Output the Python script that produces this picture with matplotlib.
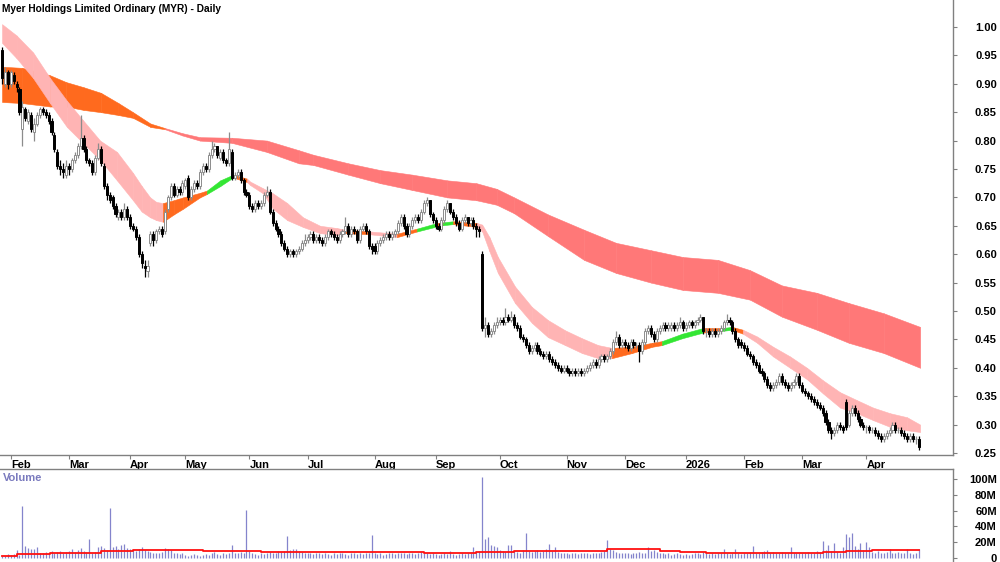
import numpy as np
import pandas as pd
import matplotlib
matplotlib.use("Agg")
import matplotlib.pyplot as plt

plt.rcParams['font.family'] = ['Liberation Sans', 'DejaVu Sans']

# trading calendar (ASX), Jan 29 2025 .. Apr 29 2026
start_date = "2025-01-29"
end_date = "2026-04-29"
holidays = ["2025-04-18", "2025-04-21", "2025-04-25", "2025-06-09", "2025-12-25",
            "2025-12-26", "2026-01-01", "2026-01-26", "2026-04-03", "2026-04-06"]

# daily candles, one row per month
opens = [
    0.96, 0.90, 0.92,
    0.90, 0.915, 0.90, 0.89, 0.82, 0.855, 0.835, 0.845, 0.815, 0.83, 0.845, 0.855, 0.85, 0.845, 0.835, 0.81, 0.78, 0.755, 0.75, 0.74,
    0.755, 0.75, 0.765, 0.775, 0.79, 0.805, 0.785, 0.765, 0.76, 0.745, 0.77, 0.785, 0.755, 0.72, 0.705, 0.70, 0.685, 0.665, 0.675, 0.665, 0.68,
    0.665, 0.65, 0.645, 0.63, 0.60, 0.58, 0.57, 0.62, 0.635, 0.625, 0.64, 0.645, 0.64, 0.68, 0.70, 0.72, 0.705, 0.715, 0.71,
    0.72, 0.735, 0.70, 0.715, 0.725, 0.72, 0.745, 0.755, 0.75, 0.775, 0.785, 0.79, 0.77, 0.78, 0.765, 0.76, 0.78, 0.735, 0.74, 0.745, 0.73, 0.71,
    0.705, 0.685, 0.68, 0.69, 0.685, 0.69, 0.705, 0.71, 0.675, 0.655, 0.645, 0.635, 0.62, 0.61, 0.60, 0.605, 0.60, 0.605, 0.61, 0.62,
    0.625, 0.63, 0.635, 0.625, 0.63, 0.625, 0.62, 0.63, 0.64, 0.635, 0.63, 0.625, 0.635, 0.64, 0.65, 0.635, 0.645, 0.64, 0.625, 0.645, 0.65, 0.64, 0.615,
    0.615, 0.605, 0.62, 0.625, 0.63, 0.635, 0.63, 0.635, 0.64, 0.655, 0.665, 0.65, 0.635, 0.65, 0.66, 0.665, 0.66, 0.675, 0.69, 0.695, 0.67,
    0.66, 0.65, 0.645, 0.66, 0.68, 0.69, 0.675, 0.665, 0.655, 0.645, 0.66, 0.665, 0.655, 0.66, 0.65, 0.645, 0.60, 0.47, 0.475, 0.46, 0.465, 0.475,
    0.48, 0.485, 0.48, 0.49, 0.485, 0.49, 0.475, 0.47, 0.455, 0.45, 0.44, 0.43, 0.435, 0.44, 0.43, 0.425, 0.42, 0.425, 0.415, 0.41, 0.405, 0.40, 0.395,
    0.40, 0.395, 0.39, 0.395, 0.39, 0.395, 0.39, 0.395, 0.40, 0.405, 0.41, 0.405, 0.415, 0.42, 0.415, 0.42, 0.43, 0.445, 0.455, 0.44,
    0.445, 0.44, 0.435, 0.445, 0.44, 0.44, 0.43, 0.445, 0.465, 0.47, 0.46, 0.45, 0.465, 0.47, 0.475, 0.47, 0.47, 0.475, 0.47, 0.475, 0.48,
    0.47, 0.475, 0.48, 0.475, 0.48, 0.485, 0.49, 0.465, 0.465, 0.46, 0.465, 0.46, 0.465, 0.47, 0.48, 0.485, 0.48, 0.465, 0.45, 0.445,
    0.44, 0.435, 0.425, 0.42, 0.41, 0.405, 0.395, 0.39, 0.38, 0.37, 0.365, 0.37, 0.375, 0.385, 0.375, 0.37, 0.365, 0.37, 0.375, 0.385,
    0.37, 0.36, 0.355, 0.35, 0.345, 0.34, 0.335, 0.33, 0.32, 0.305, 0.29, 0.285, 0.29, 0.30, 0.295, 0.34, 0.30, 0.32, 0.33, 0.32, 0.31, 0.30,
    0.295, 0.295, 0.29, 0.29, 0.285, 0.28, 0.275, 0.28, 0.285, 0.29, 0.30, 0.29, 0.29, 0.285, 0.28, 0.275, 0.28, 0.275, 0.275,
]
highs = [
    0.965, 0.93, 0.925,
    0.925, 0.92, 0.905, 0.895, 0.87, 0.86, 0.855, 0.85, 0.84, 0.85, 0.86, 0.86, 0.855, 0.85, 0.84, 0.815, 0.785, 0.765, 0.76, 0.765,
    0.76, 0.77, 0.78, 0.795, 0.845, 0.81, 0.79, 0.77, 0.765, 0.775, 0.795, 0.79, 0.76, 0.725, 0.71, 0.705, 0.69, 0.68, 0.68, 0.69, 0.685,
    0.67, 0.655, 0.65, 0.635, 0.605, 0.59, 0.59, 0.64, 0.64, 0.645, 0.65, 0.65, 0.68, 0.705, 0.725, 0.725, 0.72, 0.72, 0.73,
    0.735, 0.74, 0.72, 0.73, 0.73, 0.75, 0.76, 0.76, 0.78, 0.80, 0.795, 0.79, 0.785, 0.785, 0.77, 0.815, 0.785, 0.745, 0.75, 0.75, 0.735, 0.715,
    0.71, 0.69, 0.695, 0.695, 0.695, 0.71, 0.72, 0.715, 0.68, 0.66, 0.65, 0.64, 0.625, 0.615, 0.61, 0.61, 0.61, 0.615, 0.625, 0.635,
    0.635, 0.64, 0.64, 0.635, 0.635, 0.63, 0.635, 0.645, 0.645, 0.64, 0.635, 0.64, 0.645, 0.665, 0.655, 0.65, 0.65, 0.645, 0.65, 0.655, 0.655, 0.645, 0.62,
    0.62, 0.625, 0.63, 0.635, 0.64, 0.64, 0.64, 0.645, 0.66, 0.67, 0.67, 0.655, 0.655, 0.665, 0.67, 0.67, 0.68, 0.695, 0.70, 0.695, 0.675,
    0.665, 0.655, 0.665, 0.685, 0.695, 0.69, 0.68, 0.67, 0.66, 0.665, 0.67, 0.665, 0.665, 0.665, 0.655, 0.65, 0.605, 0.49, 0.48, 0.47, 0.48, 0.49,
    0.49, 0.49, 0.505, 0.495, 0.50, 0.495, 0.48, 0.475, 0.46, 0.455, 0.445, 0.44, 0.445, 0.445, 0.435, 0.43, 0.43, 0.43, 0.42, 0.415, 0.41, 0.405, 0.405,
    0.405, 0.40, 0.40, 0.40, 0.40, 0.40, 0.40, 0.405, 0.41, 0.415, 0.415, 0.42, 0.425, 0.425, 0.425, 0.435, 0.45, 0.465, 0.46, 0.45,
    0.45, 0.445, 0.45, 0.45, 0.445, 0.445, 0.45, 0.47, 0.475, 0.475, 0.465, 0.47, 0.475, 0.48, 0.48, 0.48, 0.48, 0.48, 0.48, 0.49, 0.485,
    0.48, 0.485, 0.485, 0.485, 0.49, 0.495, 0.49, 0.47, 0.47, 0.47, 0.47, 0.47, 0.475, 0.485, 0.495, 0.49, 0.485, 0.47, 0.455, 0.45,
    0.445, 0.44, 0.43, 0.425, 0.415, 0.41, 0.40, 0.395, 0.385, 0.375, 0.375, 0.38, 0.39, 0.39, 0.38, 0.375, 0.375, 0.38, 0.39, 0.39,
    0.375, 0.365, 0.36, 0.355, 0.35, 0.345, 0.34, 0.335, 0.325, 0.31, 0.295, 0.295, 0.305, 0.305, 0.30, 0.345, 0.325, 0.335, 0.335, 0.325, 0.315, 0.305,
    0.30, 0.30, 0.295, 0.295, 0.29, 0.285, 0.285, 0.29, 0.295, 0.305, 0.305, 0.295, 0.295, 0.29, 0.285, 0.285, 0.285, 0.28, 0.28,
]
lows = [
    0.90, 0.895, 0.89,
    0.895, 0.90, 0.885, 0.845, 0.79, 0.835, 0.83, 0.815, 0.80, 0.825, 0.84, 0.845, 0.84, 0.83, 0.81, 0.78, 0.75, 0.74, 0.735, 0.735,
    0.74, 0.745, 0.76, 0.77, 0.785, 0.78, 0.76, 0.755, 0.74, 0.74, 0.765, 0.755, 0.715, 0.695, 0.69, 0.68, 0.665, 0.66, 0.66, 0.66, 0.66,
    0.645, 0.64, 0.625, 0.595, 0.575, 0.56, 0.56, 0.615, 0.615, 0.62, 0.635, 0.63, 0.635, 0.675, 0.695, 0.70, 0.70, 0.705, 0.705,
    0.715, 0.695, 0.695, 0.71, 0.715, 0.715, 0.74, 0.745, 0.745, 0.77, 0.78, 0.77, 0.765, 0.76, 0.755, 0.755, 0.73, 0.73, 0.735, 0.725, 0.705, 0.70,
    0.68, 0.675, 0.675, 0.68, 0.68, 0.685, 0.70, 0.67, 0.65, 0.64, 0.63, 0.615, 0.605, 0.595, 0.595, 0.595, 0.595, 0.60, 0.605, 0.615,
    0.62, 0.625, 0.62, 0.62, 0.62, 0.615, 0.615, 0.625, 0.63, 0.625, 0.62, 0.62, 0.63, 0.635, 0.63, 0.63, 0.635, 0.62, 0.62, 0.64, 0.635, 0.61, 0.60,
    0.60, 0.60, 0.615, 0.62, 0.625, 0.625, 0.625, 0.63, 0.635, 0.65, 0.645, 0.63, 0.63, 0.645, 0.655, 0.655, 0.655, 0.67, 0.685, 0.665, 0.655,
    0.645, 0.64, 0.64, 0.655, 0.675, 0.67, 0.66, 0.65, 0.64, 0.64, 0.655, 0.65, 0.65, 0.645, 0.63, 0.63, 0.465, 0.455, 0.455, 0.455, 0.46, 0.47,
    0.475, 0.475, 0.475, 0.48, 0.48, 0.47, 0.465, 0.45, 0.445, 0.435, 0.425, 0.425, 0.43, 0.425, 0.42, 0.415, 0.415, 0.41, 0.405, 0.40, 0.395, 0.39, 0.39,
    0.39, 0.385, 0.385, 0.385, 0.385, 0.385, 0.385, 0.39, 0.395, 0.40, 0.40, 0.40, 0.41, 0.41, 0.41, 0.415, 0.425, 0.44, 0.435, 0.435,
    0.435, 0.43, 0.43, 0.435, 0.435, 0.41, 0.425, 0.44, 0.46, 0.455, 0.445, 0.445, 0.46, 0.465, 0.465, 0.465, 0.465, 0.465, 0.465, 0.47, 0.465,
    0.465, 0.47, 0.47, 0.47, 0.475, 0.48, 0.46, 0.455, 0.455, 0.455, 0.455, 0.455, 0.46, 0.465, 0.475, 0.475, 0.46, 0.445, 0.435, 0.435,
    0.43, 0.42, 0.415, 0.405, 0.40, 0.39, 0.385, 0.375, 0.365, 0.36, 0.36, 0.365, 0.37, 0.37, 0.365, 0.36, 0.36, 0.365, 0.37, 0.365,
    0.355, 0.35, 0.345, 0.34, 0.335, 0.33, 0.325, 0.315, 0.30, 0.285, 0.275, 0.28, 0.285, 0.29, 0.285, 0.29, 0.295, 0.315, 0.315, 0.305, 0.295, 0.29,
    0.285, 0.285, 0.285, 0.28, 0.275, 0.27, 0.27, 0.275, 0.28, 0.285, 0.285, 0.285, 0.28, 0.275, 0.27, 0.27, 0.27, 0.265, 0.255,
]
closes = [
    0.91, 0.92, 0.90,
    0.92, 0.905, 0.895, 0.85, 0.86, 0.84, 0.85, 0.82, 0.83, 0.845, 0.855, 0.85, 0.845, 0.835, 0.815, 0.785, 0.755, 0.75, 0.745, 0.755,
    0.75, 0.765, 0.775, 0.79, 0.805, 0.785, 0.765, 0.76, 0.745, 0.77, 0.785, 0.76, 0.72, 0.705, 0.695, 0.685, 0.67, 0.675, 0.665, 0.68, 0.665,
    0.65, 0.645, 0.63, 0.60, 0.585, 0.575, 0.58, 0.635, 0.625, 0.64, 0.645, 0.635, 0.675, 0.70, 0.72, 0.705, 0.715, 0.71, 0.725,
    0.73, 0.70, 0.715, 0.725, 0.72, 0.745, 0.755, 0.75, 0.775, 0.785, 0.79, 0.775, 0.78, 0.765, 0.76, 0.785, 0.735, 0.74, 0.745, 0.73, 0.71, 0.705,
    0.685, 0.68, 0.69, 0.685, 0.69, 0.705, 0.71, 0.675, 0.655, 0.645, 0.635, 0.62, 0.61, 0.60, 0.605, 0.60, 0.605, 0.61, 0.62, 0.625,
    0.63, 0.635, 0.625, 0.63, 0.625, 0.62, 0.63, 0.64, 0.635, 0.63, 0.625, 0.635, 0.64, 0.65, 0.635, 0.645, 0.64, 0.625, 0.645, 0.65, 0.64, 0.615, 0.61,
    0.605, 0.62, 0.625, 0.63, 0.635, 0.63, 0.635, 0.64, 0.655, 0.665, 0.65, 0.635, 0.65, 0.66, 0.665, 0.66, 0.675, 0.69, 0.695, 0.67, 0.66,
    0.65, 0.645, 0.66, 0.68, 0.69, 0.675, 0.665, 0.655, 0.645, 0.66, 0.665, 0.655, 0.66, 0.65, 0.645, 0.64, 0.47, 0.475, 0.46, 0.465, 0.475, 0.48,
    0.485, 0.48, 0.49, 0.485, 0.49, 0.475, 0.47, 0.455, 0.45, 0.44, 0.43, 0.435, 0.44, 0.43, 0.425, 0.42, 0.425, 0.415, 0.41, 0.405, 0.40, 0.395, 0.40,
    0.395, 0.39, 0.395, 0.39, 0.395, 0.39, 0.395, 0.40, 0.405, 0.41, 0.405, 0.415, 0.42, 0.415, 0.42, 0.43, 0.445, 0.455, 0.44, 0.445,
    0.44, 0.435, 0.445, 0.44, 0.44, 0.43, 0.445, 0.465, 0.47, 0.46, 0.45, 0.465, 0.47, 0.475, 0.47, 0.475, 0.475, 0.47, 0.475, 0.48, 0.47,
    0.475, 0.48, 0.475, 0.48, 0.485, 0.49, 0.465, 0.465, 0.46, 0.465, 0.46, 0.465, 0.47, 0.48, 0.485, 0.48, 0.465, 0.45, 0.44, 0.44,
    0.435, 0.425, 0.42, 0.41, 0.405, 0.395, 0.39, 0.38, 0.37, 0.365, 0.37, 0.375, 0.385, 0.375, 0.37, 0.365, 0.37, 0.375, 0.385, 0.37,
    0.36, 0.355, 0.35, 0.345, 0.34, 0.335, 0.33, 0.32, 0.305, 0.29, 0.285, 0.29, 0.30, 0.295, 0.29, 0.295, 0.32, 0.33, 0.32, 0.31, 0.30, 0.295,
    0.295, 0.29, 0.29, 0.285, 0.28, 0.275, 0.28, 0.285, 0.29, 0.30, 0.29, 0.29, 0.285, 0.28, 0.275, 0.28, 0.275, 0.275, 0.26,
]
# volume in millions of shares
volume_m = [
    3, 3, 5,
    4, 5, 10, 4, 66, 15, 13, 11, 12, 14, 6, 7, 8, 6, 9, 7, 8, 9, 7, 8,
    9, 11, 8, 10, 13, 9, 8, 24, 7, 8, 14, 15, 13, 10, 63, 14, 15, 12, 16, 18, 13,
    11, 10, 9, 12, 14, 10, 9, 8, 7, 6, 7, 8, 13, 12, 10, 7, 6, 5, 6,
    4, 3, 4, 5, 4, 3, 4, 5, 4, 6, 8, 5, 4, 6, 5, 7, 17, 6, 7, 8, 6, 61,
    9, 7, 5, 4, 6, 5, 7, 8, 6, 7, 9, 8, 9, 28, 10, 12, 11, 9, 8, 7,
    7, 6, 5, 6, 7, 5, 6, 5, 4, 6, 5, 7, 6, 5, 4, 6, 7, 5, 6, 5, 6, 7, 29,
    6, 5, 6, 4, 5, 6, 7, 5, 6, 7, 6, 5, 6, 7, 5, 6, 8, 7, 6, 5, 6,
    5, 4, 5, 6, 5, 9, 5, 4, 5, 6, 5, 6, 7, 14, 8, 9, 103, 24, 27, 16, 15, 14,
    10, 9, 8, 16, 17, 9, 8, 7, 10, 32, 9, 8, 9, 10, 8, 9, 11, 18, 9, 14, 8, 7, 6,
    6, 5, 6, 7, 5, 6, 7, 6, 5, 6, 7, 6, 8, 9, 23, 12, 10, 8, 7, 6,
    7, 6, 5, 6, 7, 8, 6, 7, 14, 9, 10, 8, 7, 6, 5, 6, 4, 5, 6, 5, 4,
    5, 4, 5, 6, 7, 5, 8, 6, 5, 6, 5, 7, 6, 12, 6, 5, 7, 12, 6, 5,
    6, 7, 8, 15, 7, 6, 8, 9, 10, 7, 8, 6, 7, 8, 6, 7, 14, 6, 7, 6,
    7, 6, 8, 7, 6, 9, 8, 22, 10, 17, 9, 19, 8, 7, 14, 31, 27, 32, 15, 12, 19, 10,
    20, 14, 8, 7, 9, 6, 7, 8, 12, 6, 7, 8, 6, 7, 11, 6, 5, 6, 12,
]
# volume average line (millions), level from each bar number onward
vol_avg_bar = [0, 5, 16.5, 34, 45, 69, 89, 102, 145, 163, 176, 187, 208, 226, 233, 242, 282, 290, 299, 315]
vol_avg_m = [2.5, 5, 6, 9, 10, 9, 8, 7.5, 6, 7.5, 9, 8.5, 11, 9, 8, 7, 7.5, 9, 10, 10]

# short-term band (bar number, upper, lower, state of the following segment)
short_bar = [0, 5, 10.7, 16.5, 22.3, 27.8, 33.7, 39.5, 45, 48, 50.9, 53, 55.3, 59, 62.2, 68, 70.4, 75,
             79.4, 84.2, 85.2, 89.7, 93.1, 98, 103.4, 109.3, 115.1, 117.9, 126.5, 135.7, 142.6,
             149.5, 151.5, 155, 163.2, 165, 167.5, 170.4, 176.3, 182.1, 187.6, 193.5, 199.3, 204.8,
             209.6, 216.5, 223.4, 226.8, 233.7, 240.9, 247.4, 250.9, 254.6, 259.5, 265, 270.8,
             276.6, 282.1, 288, 293.8, 299.3, 305.2, 311, 315.5]
short_top = [1.005, 0.985, 0.955, 0.91, 0.87, 0.836, 0.80, 0.78, 0.743, 0.72, 0.70, 0.692, 0.69,
             0.695, 0.70, 0.708, 0.712, 0.73, 0.74, 0.733, 0.728, 0.716, 0.707, 0.69, 0.665, 0.65,
             0.646, 0.643, 0.64, 0.636, 0.645, 0.655, 0.656, 0.658, 0.655, 0.652, 0.63, 0.595, 0.543,
             0.507, 0.484, 0.466, 0.452, 0.44, 0.435, 0.437, 0.444, 0.447, 0.46, 0.47, 0.47, 0.472,
             0.467, 0.455, 0.437, 0.42, 0.40, 0.378, 0.357, 0.343, 0.33, 0.32, 0.313, 0.30]
short_bot = [0.972, 0.945, 0.91, 0.866, 0.824, 0.796, 0.766, 0.73, 0.695, 0.675, 0.665, 0.66,
             0.657, 0.67, 0.68, 0.70, 0.706, 0.72, 0.735, 0.727, 0.722, 0.707, 0.68, 0.66, 0.648,
             0.637, 0.634, 0.637, 0.635, 0.63, 0.64, 0.649, 0.651, 0.653, 0.648, 0.64, 0.605, 0.567,
             0.514, 0.479, 0.454, 0.44, 0.426, 0.417, 0.417, 0.426, 0.437, 0.44, 0.452, 0.462,
             0.465, 0.467, 0.46, 0.444, 0.42, 0.40, 0.38, 0.355, 0.33, 0.32, 0.308, 0.296, 0.29, 0.287]
short_state = "PPPPPPPPPPPPOOOOGGOPPPPPPPPOPOGOGOPPPPPPPPPPOOOGGOGOPPPPPPPPPPPP"

# long-term band
long_bar = [0, 7, 16.5, 22, 28, 34, 40, 45, 51, 56, 62, 68, 79, 91, 102, 107, 119, 130, 141,
            153, 163, 170, 176, 187.6, 200, 211, 223, 234, 246, 257, 268, 280, 291, 303, 315.5]
long_top = [0.93, 0.928, 0.915, 0.903, 0.894, 0.884, 0.866, 0.85, 0.83, 0.822, 0.813, 0.806,
            0.805, 0.80, 0.783, 0.775, 0.76, 0.748, 0.74, 0.73, 0.725, 0.715, 0.70, 0.67, 0.643,
            0.62, 0.607, 0.595, 0.59, 0.572, 0.545, 0.532, 0.514, 0.496, 0.472]
long_bot = [0.868, 0.866, 0.86, 0.86, 0.854, 0.85, 0.845, 0.84, 0.824, 0.82, 0.809, 0.80,
            0.796, 0.78, 0.76, 0.757, 0.74, 0.725, 0.713, 0.70, 0.695, 0.687, 0.672, 0.632, 0.59,
            0.567, 0.55, 0.537, 0.532, 0.52, 0.49, 0.467, 0.444, 0.426, 0.40]
long_state = "OOOOOOOOORRRRRRRRRRRRRRRRRRRRRRRRR"

short_colors = {"P": "#FFB4B4", "O": "#FF6A1E", "G": "#33E633"}
long_colors = {"O": "#FF6A1E", "R": "#FF7878"}

TITLE = "Myer Holdings Limited Ordinary (MYR) - Daily"


def draw_band(ax, bars, top, bot, states, colors):
    for i in range(len(bars) - 1):
        c = colors[states[i]]
        ax.fill_between(bars[i:i + 2], top[i:i + 2], bot[i:i + 2],
                        facecolor=c, edgecolor=c, linewidth=0.4, zorder=1)


def draw_candles(ax, o, h, l, c):
    x = np.arange(len(c))
    up = c >= o
    dn = ~up
    ax.vlines(x[up], l[up], h[up], color="#8C8C8C", linewidth=0.9, zorder=2)
    ax.vlines(x[dn], l[dn], h[dn], color="black", linewidth=0.9, zorder=2)
    body_lo = np.minimum(o, c)
    body_h = np.abs(c - o)
    ax.bar(x[up], body_h[up], bottom=body_lo[up], width=0.72, facecolor="white",
           edgecolor="#8C8C8C", linewidth=0.7, zorder=3)
    ax.bar(x[dn], body_h[dn], bottom=body_lo[dn], width=0.72, facecolor="black",
           edgecolor="black", linewidth=0.7, zorder=3)


def style_right_axis(ax):
    ax.yaxis.tick_right()
    ax.tick_params(axis="y", direction="out", length=3, width=0.8, color="#808080",
                   pad=28.5, labelsize=8)
    for lbl in ax.get_yticklabels():
        lbl.set_horizontalalignment("right")
        lbl.set_fontweight("bold")


def plot_chart():
    days = pd.bdate_range(start_date, end_date)
    days = days[~days.isin(pd.to_datetime(holidays))]
    o, h, l, c = (np.array(v) for v in (opens, highs, lows, closes))
    vol = np.array(volume_m) * 1e6
    assert len(days) == len(c) == len(o) == len(h) == len(l) == len(vol)
    x = np.arange(len(days))

    # first bar of each month
    month_pos = [i for i in range(1, len(days)) if days[i].month != days[i - 1].month]
    month_lab = [days[i].strftime("%Y") if days[i].month == 1 else days[i].strftime("%b")
                 for i in month_pos]

    fig = plt.figure(figsize=(10, 5.62), dpi=100)
    ax = fig.add_axes([0, 107 / 562, 0.953, 455 / 562])
    axv = fig.add_axes([0, 0, 0.953, 93 / 562])

    draw_band(ax, long_bar, long_top, long_bot, long_state, long_colors)
    draw_band(ax, short_bar, short_top, short_bot, short_state, short_colors)
    draw_candles(ax, o, h, l, c)

    xlim = (-0.7, 326.8)
    ax.set_xlim(*xlim)
    ax.set_ylim(0.2465, 1.0475)
    ax.set_yticks(np.arange(0.25, 1.001, 0.05))
    ax.yaxis.set_major_formatter(plt.FormatStrFormatter("%.2f"))
    style_right_axis(ax)
    ax.set_xticks(month_pos)
    ax.set_xticklabels(month_lab, fontsize=8, fontweight="bold", ha="left")
    ax.tick_params(axis="x", direction="out", length=3, width=0.8, color="#808080", pad=0.5)
    for s in ("top", "left"):
        ax.spines[s].set_visible(False)
    for s in ("right", "bottom"):
        ax.spines[s].set_color("#808080")
        ax.spines[s].set_linewidth(1.0)

    # volume panel
    axv.vlines(x, 0, vol, color="#8484CC", linewidth=0.9)
    axv.plot(vol_avg_bar, np.array(vol_avg_m) * 1e6, color="#FF1010", linewidth=1.3,
             drawstyle="steps-post")
    axv.set_xlim(*xlim)
    axv.set_ylim(-5e6, 112.7e6)
    axv.set_xticks([])
    axv.set_yticks(np.arange(0, 101e6, 20e6))
    axv.set_yticklabels(["0", "20M", "40M", "60M", "80M", "100M"])
    style_right_axis(axv)
    for s in ("bottom", "left"):
        axv.spines[s].set_visible(False)
    for s in ("right", "top"):
        axv.spines[s].set_color("#808080")
        axv.spines[s].set_linewidth(1.0)
    axv.text(0.003, 0.9, "Volume", transform=axv.transAxes, color="#7A7ABE",
             fontsize=8, fontweight="bold", va="center", ha="left")

    fig.text(0.002, 1 - 9 / 562, TITLE, fontsize=7.3, fontweight="bold", va="center", ha="left")
    fig.savefig("out.png", dpi=100)


if __name__ == "__main__":
    plot_chart()
